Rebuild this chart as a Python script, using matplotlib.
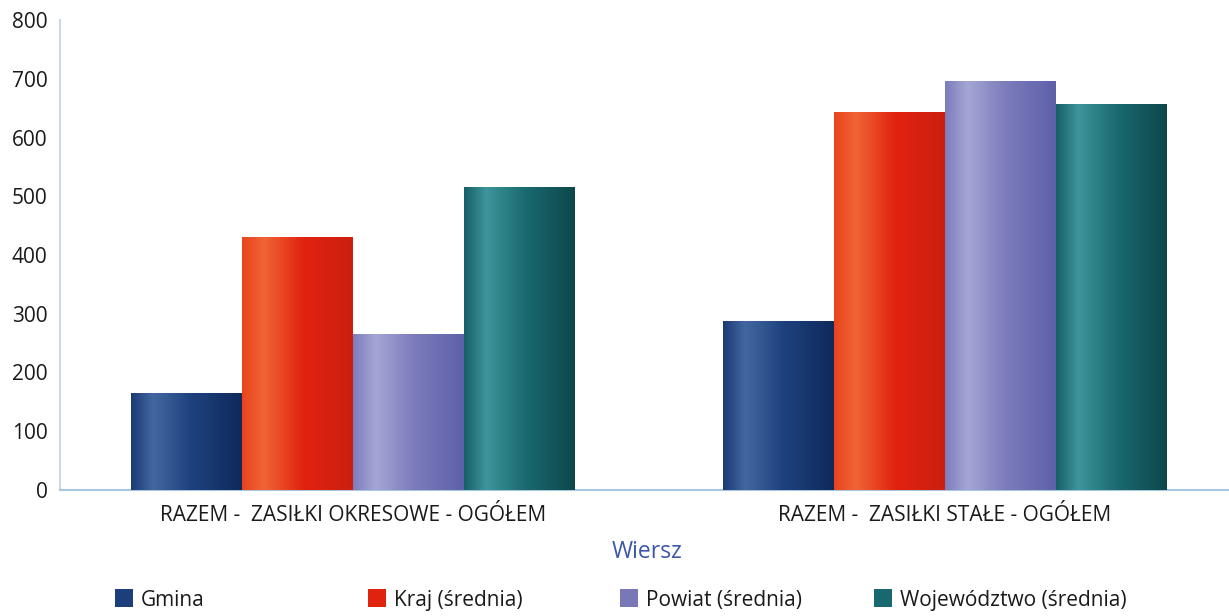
import numpy as np
import matplotlib
matplotlib.use("Agg")
import matplotlib.pyplot as plt
from matplotlib.colors import to_rgb
from matplotlib.patches import Patch

plt.rcParams['font.family'] = ['Open Sans', 'DejaVu Sans']

categories = ["RAZEM -  ZASIŁKI OKRESOWE - OGÓŁEM", "RAZEM -  ZASIŁKI STAŁE - OGÓŁEM"]
series = ["Gmina", "Kraj (średnia)", "Powiat (średnia)", "Województwo (średnia)"]
gmina = [165, 287]
kraj = [431, 643]
powiat = [265, 697]
wojewodztwo = [515, 657]
values = [gmina, kraj, powiat, wojewodztwo]
yticks = [0, 100, 200, 300, 400, 500, 600, 700, 800]

base_colors = ["#1c3f7c", "#e0230f", "#7878b8", "#186870"]
# gradient stops: (left, highlight, mid, right)
grad = [
    ["#1a3a74", "#43679f", "#1d417e", "#10295a"],
    ["#e8441e", "#f06434", "#e1230f", "#cc1f10"],
    ["#7c7cba", "#a4a6d4", "#7c7cbb", "#5e60a8"],
    ["#176068", "#3e959b", "#1a6a70", "#0d474b"],
]

fig = plt.figure(figsize=(12.29, 6.16), dpi=100)
ax = fig.add_axes([60/1229, 126/616, 1 - 60/1229, 470/616])

x = np.arange(len(categories))
w = 0.1875
offsets = (np.arange(4) - 1.5) * w

def gradient_img(stops, n=200):
    pos = [0.0, 0.2, 0.55, 1.0]
    cols = np.array([to_rgb(c) for c in stops])
    t = np.linspace(0, 1, n)
    img = np.stack([np.interp(t, pos, cols[:, k]) for k in range(3)], axis=-1)
    return img[np.newaxis, :, :]

for i, vals in enumerate(values):
    bars = ax.bar(x + offsets[i], vals, width=w, color=base_colors[i], linewidth=0, zorder=2)
    img = gradient_img(grad[i])
    for b in bars:
        x0, y0 = b.get_x(), b.get_y()
        im = ax.imshow(img, extent=(x0, x0 + b.get_width(), y0, y0 + b.get_height()),
                       aspect='auto', zorder=3, interpolation='bilinear')
        im.set_clip_path(b)

ax.set_xlim(-0.495, 1.48)
ax.set_ylim(0, 800)
ax.set_yticks(yticks)
ax.set_yticklabels([str(v) for v in yticks], fontsize=15, color="#1a1a1a")
ax.set_xticks(x)
ax.set_xticklabels(categories, fontsize=15, color="#1a1a1a")
ax.tick_params(axis='both', length=0)
ax.tick_params(axis='x', pad=11)
ax.tick_params(axis='y', pad=9)
for s in ['top', 'right']:
    ax.spines[s].set_visible(False)
ax.spines['left'].set_color("#cdd8e6")
ax.spines['left'].set_linewidth(1.5)
ax.spines['bottom'].set_color("#a8c8e2")
ax.spines['bottom'].set_linewidth(1.5)

fig.text(647/1229, 1 - 552/616, "Wiersz", fontsize=16.5, color="#3b57a8", ha='center', va='center')

legend_x = [115, 368, 620, 874]
for i, name in enumerate(series):
    h = Patch(facecolor=base_colors[i], edgecolor='none')
    fig.legend([h], [name], loc='center left', bbox_to_anchor=(legend_x[i]/1229, 1 - 600/616),
               frameon=False, fontsize=15, handlelength=0.85, handleheight=0.95,
               handletextpad=0.4, borderpad=0, borderaxespad=0, labelcolor="#1a1a1a")

fig.savefig("out.png", dpi=100, facecolor="white")
